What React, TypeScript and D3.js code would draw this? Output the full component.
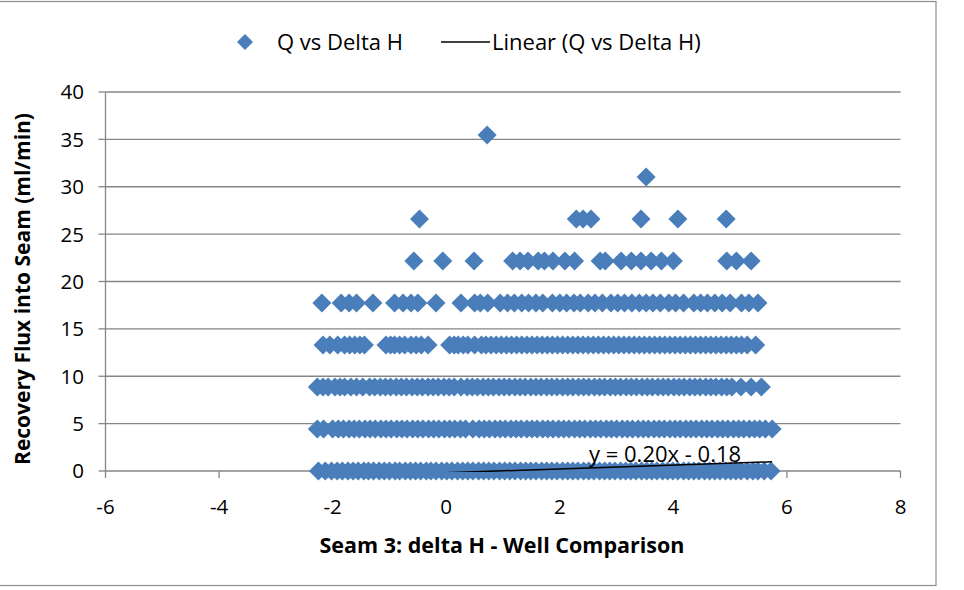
import React from "react";
import * as d3 from "d3";

// ---- data ----
const levelStep = 4.4336; // flux quantum (ml/min)
const row0 = [-2.25,-2.13,-2.02,-1.92,-1.83,-1.73,-1.64,-1.55,-1.45,-1.37,-1.28,-1.18,-1.09,-1.0,-0.9,-0.82,-0.72,-0.63,-0.54,-0.45,-0.35,-0.27,-0.18,-0.08,0.01,0.1,0.2,0.29,0.38,0.47,0.57,0.66,0.75,0.84,0.94,1.03,1.12,1.21,1.31,1.4,1.49,1.58,1.68,1.77,1.86,1.95,2.05,2.14,2.23,2.32,2.42,2.51,2.6,2.7,2.79,2.88,2.97,3.07,3.16,3.25,3.34,3.44,3.53,3.62,3.71,3.81,3.9,3.99,4.08,4.18,4.27,4.36,4.45,4.55,4.64,4.73,4.82,4.92,5.01,5.1,5.19,5.3,5.4,5.49,5.6,5.72];
const row1 = [-2.27,-2.16,-2.0,-1.9,-1.81,-1.71,-1.62,-1.53,-1.43,-1.34,-1.25,-1.15,-1.06,-0.97,-0.87,-0.78,-0.69,-0.59,-0.5,-0.41,-0.31,-0.22,-0.13,-0.03,0.06,0.15,0.25,0.34,0.47,0.58,0.67,0.76,0.86,0.95,1.04,1.14,1.23,1.32,1.42,1.51,1.6,1.7,1.79,1.88,1.98,2.07,2.16,2.26,2.35,2.44,2.54,2.63,2.72,2.82,2.91,3.0,3.1,3.19,3.28,3.38,3.47,3.56,3.66,3.75,3.84,3.94,4.03,4.12,4.22,4.31,4.4,4.5,4.59,4.68,4.78,4.87,4.96,5.06,5.15,5.24,5.34,5.43,5.52,5.62,5.74];
const row2 = [-2.27,-2.17,-2.08,-1.96,-1.87,-1.79,-1.68,-1.58,-1.47,-1.35,-1.26,-1.16,-1.07,-0.98,-0.88,-0.79,-0.7,-0.6,-0.51,-0.42,-0.32,-0.23,-0.14,-0.04,0.05,0.14,0.26,0.37,0.46,0.55,0.65,0.74,0.83,0.93,1.02,1.11,1.21,1.3,1.39,1.49,1.58,1.67,1.77,1.86,1.95,2.05,2.14,2.23,2.33,2.42,2.51,2.61,2.7,2.79,2.89,2.98,3.07,3.17,3.26,3.35,3.45,3.54,3.63,3.73,3.82,3.91,4.01,4.1,4.19,4.29,4.38,4.47,4.57,4.66,4.75,4.85,4.94,5.03,5.19,5.37,5.55];
const row3 = [-2.17,-2.05,-1.91,-1.79,-1.7,-1.61,-1.52,-1.44,-1.06,-0.98,-0.91,-0.82,-0.73,-0.62,-0.53,-0.44,-0.32,0.06,0.14,0.21,0.3,0.38,0.5,0.62,0.7,0.79,0.88,0.97,1.06,1.15,1.24,1.33,1.42,1.51,1.6,1.69,1.78,1.87,1.96,2.05,2.14,2.23,2.32,2.41,2.5,2.59,2.68,2.77,2.86,2.95,3.04,3.13,3.22,3.31,3.4,3.49,3.58,3.67,3.76,3.85,3.94,4.03,4.12,4.21,4.3,4.39,4.48,4.57,4.66,4.75,4.84,4.93,5.02,5.11,5.2,5.3,5.45];
const row4 = [-2.19,-1.85,-1.71,-1.58,-1.29,-0.91,-0.76,-0.62,-0.5,-0.18,0.26,0.5,0.6,0.73,0.95,1.08,1.2,1.33,1.45,1.58,1.7,1.87,2.0,2.12,2.25,2.36,2.5,2.62,2.75,2.9,3.02,3.14,3.27,3.4,3.52,3.64,3.77,3.92,4.04,4.18,4.36,4.48,4.6,4.73,4.86,5.0,5.2,5.33,5.49];
const row5 = [-0.57,-0.06,0.49,1.17,1.3,1.44,1.62,1.73,1.88,2.09,2.26,2.71,2.8,3.08,3.26,3.43,3.61,3.79,4.0,4.94,5.11,5.37];
const row6 = [-0.47,2.29,2.41,2.55,3.43,4.08,4.93];
const row7 = [3.52];
const row8 = [0.72];
const rows = [row0, row1, row2, row3, row4, row5, row6, row7, row8];

const xTicks = [-6, -4, -2, 0, 2, 4, 6, 8];
const yTicks = [0, 5, 10, 15, 20, 25, 30, 35, 40];
const trendSlope = 0.2;
const trendIntercept = -0.18;
const seriesName = "Q vs Delta H";
const trendName = "Linear (Q vs Delta H)";
const xTitle = "Seam 3: delta H - Well Comparison";
const yTitle = "Recovery Flux into Seam (ml/min)";

const FONT = "'Open Sans', Lato, sans-serif";
const BLUE = "#4A7EBB";
const GRID = "#868686";

export default function App() {
  const x = d3.scaleLinear().domain([-6, 8]).range([105.5, 900.5]);
  const y = d3.scaleLinear().domain([0, 40]).range([471, 92]);
  const r = 9.5;
  const diamond = (cx: number, cy: number, s: number) =>
    `M${cx},${cy - s}L${cx + s},${cy}L${cx},${cy + s}L${cx - s},${cy}Z`;

  const points: { x: number; y: number }[] = [];
  rows.forEach((row, i) => row.forEach((v) => points.push({ x: v, y: i * levelStep })));
  const xMin = d3.min(points, (p) => p.x)!;
  const xMax = d3.max(points, (p) => p.x)!;
  const line = d3
    .line<number>()
    .x((d) => x(d))
    .y((d) => y(trendSlope * d + trendIntercept));

  return (
    <svg width={964} height={590} style={{ position: "absolute", left: 0, top: 0 }} fontFamily={FONT}>
      <rect x={0} y={0} width={964} height={590} fill="#fff" />
      <rect x={-1} y={1.5} width={937} height={584} fill="#fff" stroke="#8c8c8c" strokeWidth={1.2} />
      <defs>
        <clipPath id="plotclip">
          <rect x={x(-6)} y={y(40)} width={x(8) - x(-6)} height={y(0) - y(40) + 1.0} />
        </clipPath>
      </defs>
      {/* gridlines */}
      {yTicks.map((t) => (
        <line key={"g" + t} x1={x(-6)} x2={x(8)} y1={y(t)} y2={y(t)} stroke={GRID} strokeWidth={1.3} />
      ))}
      {/* y axis */}
      <line x1={x(-6)} x2={x(-6)} y1={y(40)} y2={y(0)} stroke={GRID} strokeWidth={1.3} />
      {yTicks.map((t) => (
        <g key={"yt" + t}>
          <line x1={x(-6) - 7} x2={x(-6)} y1={y(t)} y2={y(t)} stroke={GRID} strokeWidth={1.3} />
          <text x={84} y={y(t)} dy="0.36em" textAnchor="end" fontSize={20.5} fill="#000">
            {t}
          </text>
        </g>
      ))}
      {/* x ticks */}
      {xTicks.map((t) => (
        <g key={"xt" + t}>
          <line x1={x(t)} x2={x(t)} y1={y(0)} y2={y(0) + 7} stroke={GRID} strokeWidth={1.3} />
          <text x={x(t)} y={507} dy="0.36em" textAnchor="middle" fontSize={20.5} fill="#000">
            {t}
          </text>
        </g>
      ))}
      {/* points */}
      <g>
        {points.map((p, i) => (
          <path key={i} d={diamond(x(p.x), y(p.y), r)} fill={BLUE} />
        ))}
      </g>
      <g clipPath="url(#plotclip)">
        <path d={line([xMin, xMax]) || ""} stroke="#000" strokeWidth={1.5} fill="none" />
      </g>
      <text x={589} y={462} fontSize={22} fill="#000">
        y = 0.20x - 0.18
      </text>
      {/* axis titles */}
      <text x={502} y={545} dy="0.36em" textAnchor="middle" fontSize={21.5} fontWeight="bold" fill="#000">
        {xTitle}
      </text>
      <text
        transform={`translate(22,${(y(0) + y(40)) / 2 + 7.5}) rotate(-90)`}
        dy="0.36em"
        textAnchor="middle"
        fontSize={21}
        fontWeight="bold"
        fill="#000"
      >
        {yTitle}
      </text>
      {/* legend */}
      <path d={diamond(245, 42, 8)} fill={BLUE} />
      <text x={277} y={42} dy="0.36em" fontSize={22} fill="#000">
        {seriesName}
      </text>
      <line x1={441} x2={490} y1={42} y2={42} stroke="#000" strokeWidth={1.5} />
      <text x={492} y={42} dy="0.36em" fontSize={22} fill="#000">
        {trendName}
      </text>
    </svg>
  );
}
